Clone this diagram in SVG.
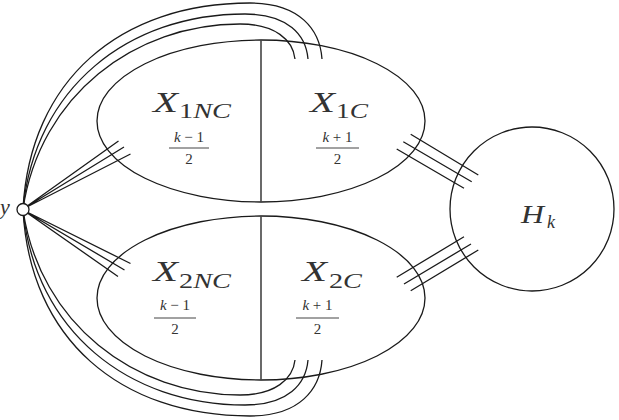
<svg xmlns="http://www.w3.org/2000/svg" width="619" height="420" viewBox="0 0 619 420">
<style>
.sh{fill:none;stroke:#1a1a1a;stroke-width:1.3}
.div{stroke:#444;stroke-width:1.6}
.bar{stroke:#444;stroke-width:1}
</style>
<rect width="619" height="420" fill="#fff"/>
<g id="connectors" fill="none" stroke="#1a1a1a" stroke-width="1.3">
<path d="M23,209 C30,80 120,3 250,3 C300,3 320,30 322,59"/>
<path d="M23,209 C35,88 128,14 245,14 C288,14 306,35 308,59"/>
<path d="M23,209 C40,95 135,24 240,24 C275,24 293,40 295,59"/>
<path d="M23,210 C30,339 120,416 250,416 C300,416 320,389 322,360"/>
<path d="M23,210 C35,331 128,405 245,405 C288,405 306,384 308,360"/>
<path d="M23,210 C40,324 135,395 240,395 C275,395 293,379 295,360"/>
<path d="M23,209 L118.5,141 M23,209 L124,147 M23,209 L130.5,154"/>
<path d="M23,210 L130.5,263.5 M23,210 L124.5,270 M23,210 L118,276.5"/>
<path d="M410.7,134.3 L478.3,175 M403.3,141.7 L471.7,181.7 M396.7,149 L464,188.3"/>
<path d="M396.7,277.3 L464,236.7 M404,284 L471,244 M410.7,290.7 L478.3,250"/>
</g>
<g id="node-X1">
<ellipse class="sh" cx="261" cy="121" rx="164" ry="81"/>
<line class="div" x1="261" y1="40" x2="261" y2="202"/>
<g fill="#333" font-family="Liberation Serif">
<text font-style="italic" font-size="30" x="153" y="112" textLength="25" lengthAdjust="spacingAndGlyphs">X</text>
<text font-size="21" x="179" y="118" textLength="52" lengthAdjust="spacingAndGlyphs">1<tspan font-style="italic">NC</tspan></text>
<text font-size="15" x="189" y="142" text-anchor="middle"><tspan font-style="italic">k</tspan> − 1</text>
<text font-size="15" x="189" y="164" text-anchor="middle">2</text>
<text font-style="italic" font-size="30" x="310" y="112" textLength="25" lengthAdjust="spacingAndGlyphs">X</text>
<text font-size="21" x="336" y="118" textLength="32" lengthAdjust="spacingAndGlyphs">1<tspan font-style="italic">C</tspan></text>
<text font-size="15" x="337.5" y="142" text-anchor="middle"><tspan font-style="italic">k</tspan> + 1</text>
<text font-size="15" x="337.5" y="164" text-anchor="middle">2</text>
</g>
<line class="bar" x1="169" y1="148" x2="209" y2="148"/>
<line class="bar" x1="316" y1="148" x2="359" y2="148"/>
</g>
<g id="node-X2">
<ellipse class="sh" cx="261" cy="298" rx="164" ry="82"/>
<line class="div" x1="261" y1="216" x2="261" y2="380"/>
<g fill="#333" font-family="Liberation Serif">
<text font-style="italic" font-size="30" x="153" y="281" textLength="25" lengthAdjust="spacingAndGlyphs">X</text>
<text font-size="21" x="179" y="288" textLength="52" lengthAdjust="spacingAndGlyphs">2<tspan font-style="italic">NC</tspan></text>
<text font-size="15" x="175" y="310" text-anchor="middle"><tspan font-style="italic">k</tspan> − 1</text>
<text font-size="15" x="175" y="334" text-anchor="middle">2</text>
<text font-style="italic" font-size="30" x="302" y="281" textLength="25" lengthAdjust="spacingAndGlyphs">X</text>
<text font-size="21" x="329" y="288" textLength="33" lengthAdjust="spacingAndGlyphs">2<tspan font-style="italic">C</tspan></text>
<text font-size="15" x="317.5" y="310" text-anchor="middle"><tspan font-style="italic">k</tspan> + 1</text>
<text font-size="15" x="317.5" y="334" text-anchor="middle">2</text>
</g>
<line class="bar" x1="154" y1="318" x2="196" y2="318"/>
<line class="bar" x1="296" y1="318" x2="339" y2="318"/>
</g>
<g id="node-Hk">
<circle class="sh" cx="532" cy="209" r="82"/>
<text fill="#333" font-family="Liberation Serif" font-style="italic" font-size="25" x="521" y="223" textLength="23" lengthAdjust="spacingAndGlyphs">H</text>
<text fill="#333" font-family="Liberation Serif" font-style="italic" font-size="18" x="547" y="228">k</text>
</g>
<g id="node-y">
<circle cx="23" cy="209.5" r="6" fill="#fff" stroke="#1a1a1a" stroke-width="1.3"/>
<text fill="#333" font-family="Liberation Serif" font-style="italic" font-size="22" x="0" y="214">y</text>
</g>
</svg>
